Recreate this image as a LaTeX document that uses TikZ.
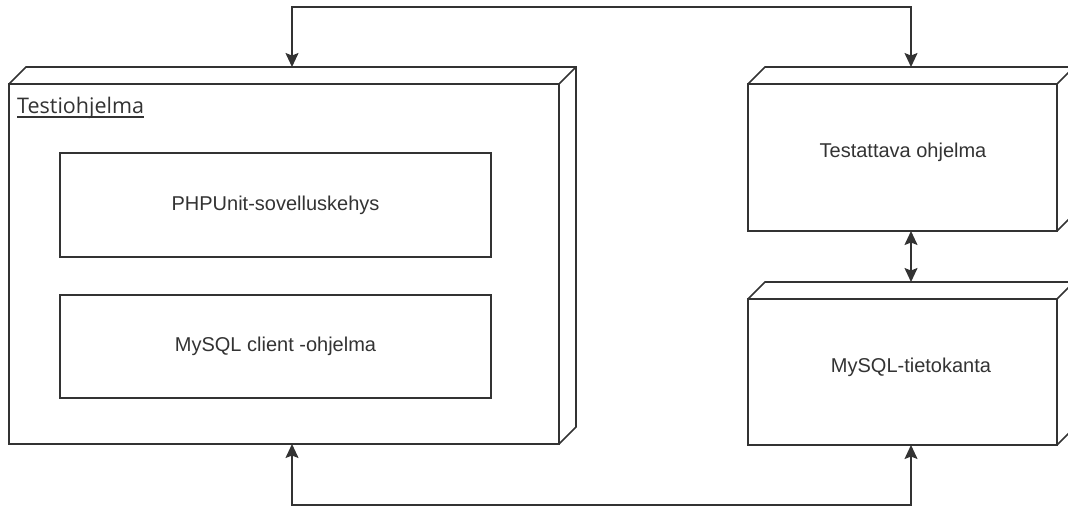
\documentclass[tikz,border=0pt]{standalone}
\usepackage{fontspec}
\setmainfont{Liberation Sans}
\newfontfamily\titlefont{Open Sans}
\usetikzlibrary{arrows.meta}
\definecolor{ln}{HTML}{333333}

\begin{document}
\begin{tikzpicture}[x=1pt,y=-1pt]
	\tikzstyle{bx} = [draw=ln, line width=1.6pt, inner sep=0, outer sep=0, text=ln, font=\fontsize{20}{24}\selectfont]
	\tikzstyle{txt} = [inner sep=0, text=ln, font=\fontsize{20}{24}\selectfont]
	\tikzstyle{ar} = [draw=ln, line width=1.6pt, {Stealth[length=14pt,width=13pt,inset=2.5pt]}-{Stealth[length=14pt,width=13pt,inset=2.5pt]}]
	\useasboundingbox (0,0) rectangle (1068,507);

	\node [bx, minimum width=550, minimum height=360] (prog) at (284,264) {};
	\node [bx, minimum width=309, minimum height=147] (tst) at (902.5,157.5) {};
	\node [bx, minimum width=309, minimum height=146] (db) at (902.5,372) {};

	% depth of the 3D boxes
	\foreach \b in {prog,tst,db}
		\draw [ln, line width=1.6pt] (\b.north west) -- ++(17,-17) -- ([shift={(17,-17)}]\b.north east) -- ([shift={(17,-17)}]\b.south east) -- (\b.south east) (\b.north east) -- ++(17,-17);

	\node [txt, anchor=base west] (ttl) at (17,113) {\titlefont\fontsize{21.5}{24}\selectfont Testiohjelma};
	\draw [ln, line width=1.3pt] ([yshift=-4]ttl.base west) -- ([yshift=-4]ttl.base east);

	\node [bx, minimum width=431, minimum height=104] (unit) at (275.5,205) {PHPUnit-sovelluskehys};
	\node [bx, minimum width=431, minimum height=103] (cli) at (275.5,346.5) {MySQL client -ohjelma};

	\node [txt, anchor=base] (tsttxt) at (903,157) {Testattava ohjelma};
	\node [txt, anchor=base] (dbtxt) at (911,372) {MySQL-tietokanta};

	\coordinate (p1) at (292,67);
	\coordinate (p2) at (292,444);
	\coordinate (t1) at (911,67);
	\coordinate (t2) at (911,231);
	\coordinate (d1) at (911,282);
	\coordinate (d2) at (911,445);

	\draw [ar] (p1) -- ++(0,-60) -| (t1);
	\draw [ar] (t2) -- (d1);
	\draw [ar] (p2) -- ++(0,61) -| (d2);

\end{tikzpicture}
\end{document}
